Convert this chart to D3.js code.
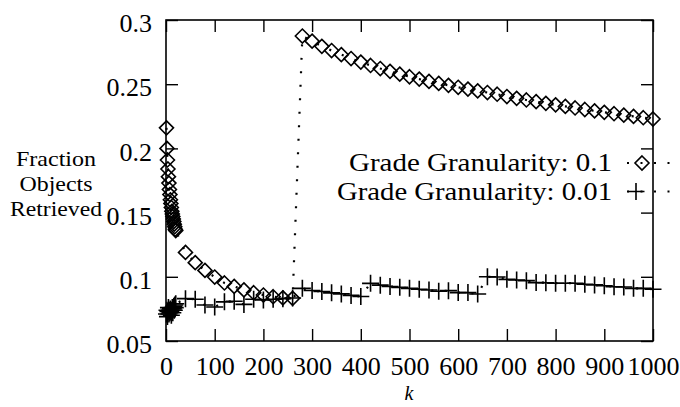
<!DOCTYPE html>
<html>
<head>
<meta charset="utf-8">
<script src="https://cdn.jsdelivr.net/npm/d3@7"></script>
<style>
  body { margin: 0; background: #fff; }
  svg { display: block; font-family: "Liberation Serif", "Times New Roman", serif; }
</style>
</head>
<body>
<div id="chart"></div>
<script>
// k values shared by both series
const kValues = [
  1, 2, 3, 4, 5, 6, 7, 8, 9, 10, 11, 12, 13, 14, 15, 16, 17, 18, 19, 20,
  40, 60, 80, 100, 120, 140, 160, 180, 200, 220, 240, 260,
  280, 300, 320, 340, 360, 380, 400, 420, 440, 460, 480, 500, 520, 540, 560, 580, 600,
  620, 640, 660, 680, 700, 720, 740, 760, 780, 800, 820, 840, 860, 880, 900, 920, 940,
  960, 980, 1000
];

// Grade Granularity: 0.1 (diamonds)
const gran01 = [
  0.216, 0.200, 0.191, 0.184, 0.178, 0.173, 0.168, 0.164, 0.160, 0.157,
  0.154, 0.151, 0.149, 0.147, 0.145, 0.143, 0.141, 0.139, 0.137, 0.136,
  0.119, 0.111, 0.105, 0.0998, 0.0952, 0.0925, 0.0898, 0.0876, 0.0858, 0.0845, 0.0836, 0.0832,
  0.2875, 0.2835, 0.2795, 0.2762, 0.2730, 0.2700, 0.2672, 0.2646, 0.2622, 0.2600, 0.2578,
  0.2558, 0.2540, 0.2522, 0.2506, 0.2491, 0.2476, 0.2462, 0.2448, 0.2435, 0.2422,
  0.2404, 0.2390, 0.2377, 0.2364, 0.2351, 0.2339, 0.2327, 0.2315, 0.2303, 0.2292,
  0.2281, 0.2270, 0.2259, 0.2249, 0.2239, 0.2229
];

// Grade Granularity: 0.01 (plus)
const gran001 = [
  0.071, 0.074, 0.069, 0.073, 0.076, 0.071, 0.074, 0.072, 0.075, 0.073,
  0.070, 0.074, 0.076, 0.072, 0.075, 0.077, 0.074, 0.078, 0.076, 0.079,
  0.083, 0.0825, 0.078, 0.0765, 0.0805, 0.081, 0.0785, 0.0825, 0.082, 0.0825, 0.083, 0.0835,
  0.091, 0.0893, 0.0885, 0.0875, 0.0867, 0.0855, 0.0847,
  0.0949, 0.0935, 0.0925, 0.0918, 0.091, 0.0903, 0.0897, 0.0888, 0.0892, 0.0877, 0.0877, 0.0866,
  0.1, 0.0998, 0.098, 0.0975, 0.097, 0.0955, 0.0954, 0.095, 0.095, 0.095,
  0.0942, 0.0937, 0.093, 0.0923, 0.092, 0.091, 0.091, 0.0903
];

const xTicks = [0, 100, 200, 300, 400, 500, 600, 700, 800, 900, 1000];
const yTicks = [0.05, 0.1, 0.15, 0.2, 0.25, 0.3];
const yTickLabels = ["0.05", "0.1", "0.15", "0.2", "0.25", "0.3"];
const seriesNames = ["Grade Granularity: 0.1", "Grade Granularity: 0.01"];
const yLabelLines = ["Fraction", "Objects", "Retrieved"];

const width = 680, height = 407;
const plot = { left: 166, right: 653, top: 20, bottom: 341 };

const svg = d3.select("#chart").append("svg")
  .attr("width", width)
  .attr("height", height);

const x = d3.scaleLinear().domain([0, 1000]).range([plot.left, plot.right]);
const y = d3.scaleLinear().domain([0.05, 0.3]).range([plot.bottom, plot.top]);

// axes, gnuplot style: inward ticks on all four sides
const tickLen = 12;
const styleAxis = g => {
  g.select(".domain").remove();
  g.selectAll(".tick line").attr("stroke", "#000").attr("stroke-width", 1.4);
  g.selectAll("text").attr("fill", "#000").attr("font-size", 26)
    .attr("font-family", "'Liberation Serif', serif");
};

svg.append("g")
  .attr("transform", `translate(0,${plot.bottom})`)
  .call(d3.axisBottom(x).tickValues(xTicks).tickSize(-tickLen).tickPadding(16).tickFormat(d3.format("d")))
  .call(styleAxis);

svg.append("g")
  .attr("transform", `translate(0,${plot.top})`)
  .call(d3.axisTop(x).tickValues(xTicks).tickSize(-tickLen).tickFormat(""))
  .call(styleAxis);

svg.append("g")
  .attr("transform", `translate(${plot.left},0)`)
  .call(d3.axisLeft(y).tickValues(yTicks).tickSize(-tickLen).tickPadding(14)
    .tickFormat((d, i) => yTickLabels[i]))
  .call(styleAxis)
  .call(g => g.selectAll("text").attr("dy", "0.45em"));

svg.append("g")
  .attr("transform", `translate(${plot.right},0)`)
  .call(d3.axisRight(y).tickValues(yTicks).tickSize(-tickLen).tickFormat(""))
  .call(styleAxis);

// frame
svg.append("rect")
  .attr("x", plot.left).attr("y", plot.top)
  .attr("width", plot.right - plot.left).attr("height", plot.bottom - plot.top)
  .attr("fill", "none").attr("stroke", "#000").attr("stroke-width", 1.6);

// axis titles
svg.append("text")
  .attr("x", 409).attr("y", 400)
  .attr("text-anchor", "middle")
  .attr("font-size", 20).attr("font-style", "italic")
  .text("k");

const yLabelWidths = [80, 73, 92];
svg.append("g").selectAll("text")
  .data(yLabelLines)
  .join("text")
  .attr("x", 56)
  .attr("y", (d, i) => 166 + i * 25)
  .attr("text-anchor", "middle")
  .attr("font-size", 21)
  .attr("textLength", (d, i) => yLabelWidths[i])
  .attr("lengthAdjust", "spacingAndGlyphs")
  .text(d => d);

// marker shapes
const diamondPath = r => `M0,${-r}L${r},0L0,${r}L${-r},0Z`;
const plusPath = r => `M${-r},0H${r}M0,${-r}V${r}`;

const line = d3.line().x(d => x(d.k)).y(d => y(d.v));

const series = [
  { name: seriesNames[0], values: gran01, marker: diamondPath(7) },
  { name: seriesNames[1], values: gran001, marker: plusPath(8.5) }
];

series.forEach((s, si) => {
  const pts = kValues.map((k, i) => ({ k, v: s.values[i] }));

  svg.append("path")
    .datum(pts)
    .attr("d", line)
    .attr("fill", "none")
    .attr("stroke", "#000")
    .attr("stroke-width", 2.2)
    .attr("stroke-dasharray", "2,11.5");

  svg.append("g").selectAll("path")
    .data(pts)
    .join("path")
    .attr("transform", d => `translate(${x(d.k)},${y(d.v)})`)
    .attr("d", s.marker)
    .attr("fill", "none")
    .attr("stroke", "#000")
    .attr("stroke-width", 1.6);

  // legend entry
  const ly = 163 + si * 28.5;
  svg.append("text")
    .attr("x", 612).attr("y", ly + 8)
    .attr("text-anchor", "end")
    .attr("font-size", 25)
    .attr("textLength", si === 0 ? 263 : 275)
    .attr("lengthAdjust", "spacingAndGlyphs")
    .text(s.name);

  svg.append("line")
    .attr("x1", 627).attr("x2", 674)
    .attr("y1", ly).attr("y2", ly)
    .attr("stroke", "#000")
    .attr("stroke-width", 2.2)
    .attr("stroke-dasharray", "2,11.5");

  svg.append("path")
    .attr("transform", `translate(${si === 0 ? 642 : 636},${ly})`)
    .attr("d", s.marker)
    .attr("fill", "none")
    .attr("stroke", "#000")
    .attr("stroke-width", 1.6);
});
</script>
</body>
</html>
